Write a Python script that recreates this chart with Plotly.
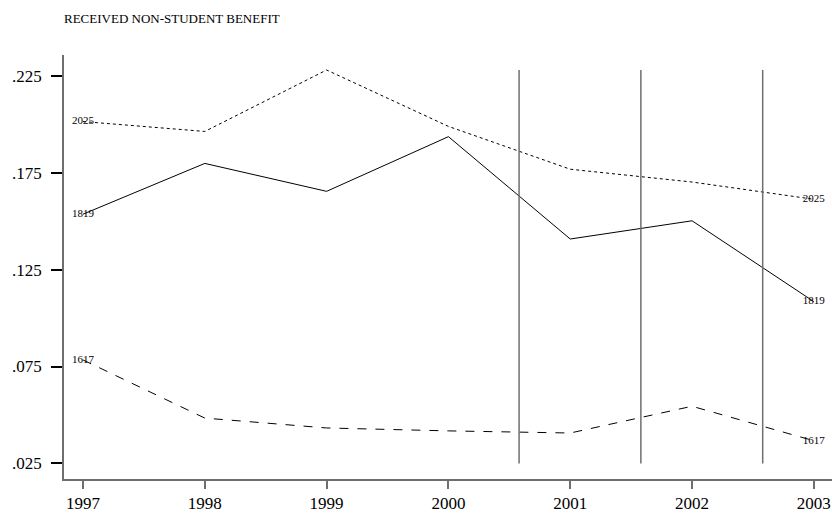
import plotly.graph_objects as go

# Survey years and share receiving a non-student benefit, by age group
years = [1997, 1998, 1999, 2000, 2001, 2002, 2003]
age_2025 = [0.2014, 0.1963, 0.2280, 0.1989, 0.1768, 0.1702, 0.1613]
age_1819 = [0.1536, 0.1798, 0.1654, 0.1936, 0.1408, 0.1502, 0.1085]
age_1617 = [0.0784, 0.0484, 0.0433, 0.0418, 0.0407, 0.0545, 0.0367]

series_names = ["2025", "1819", "1617"]
series_values = [age_2025, age_1819, age_1617]
series_dash = ["dot", "solid", "dash"]

# Policy-change reference lines
ref_x = [2000.58, 2001.58, 2002.58]
ref_ymin = 0.025
ref_ymax = max(age_2025)

y_ticks = [0.025, 0.075, 0.125, 0.175, 0.225]
y_ticklabels = [".025", ".075", ".125", ".175", ".225"]

serif = "Liberation Serif"

fig = go.Figure()

for name, vals, dash in zip(series_names, series_values, series_dash):
    labels = [name] + [""] * (len(vals) - 2) + [name]
    fig.add_trace(go.Scatter(
        x=years, y=vals, mode="lines+text", name=name,
        line=dict(color="black", width=1, dash=dash),
        text=labels, textposition="middle center",
        textfont=dict(family=serif, size=11, color="black"),
        showlegend=False, cliponaxis=False,
    ))

for xv in ref_x:
    fig.add_shape(type="line", xref="x", yref="y",
                  x0=xv, x1=xv, y0=ref_ymin, y1=ref_ymax,
                  line=dict(color="#6e6e6e", width=1.5))

fig.update_layout(
    width=832, height=513,
    margin=dict(l=64, r=0, t=55, b=30),
    paper_bgcolor="white", plot_bgcolor="white",
    title=dict(text="RECEIVED NON-STUDENT BENEFIT", x=64 / 832, xanchor="left",
               y=1 - 18 / 513, yanchor="middle",
               font=dict(family=serif, size=13, color="black")),
    font=dict(family=serif, color="black"),
)

fig.update_xaxes(
    range=[1996.844, 2003.149], tickvals=years, ticktext=[str(y) for y in years],
    showline=True, linecolor="#6e6e6e", linewidth=1.5, mirror=False,
    ticks="outside", ticklen=8, tickcolor="#6e6e6e", tickwidth=1.5,
    showgrid=False, zeroline=False, tickfont=dict(family=serif, size=17),
)
fig.update_yaxes(
    range=[0.01697, 0.23574], tickvals=y_ticks, ticktext=y_ticklabels,
    showline=True, linecolor="#6e6e6e", linewidth=1.5, mirror=False,
    ticks="outside", ticklen=11, tickcolor="black", tickwidth=1.5,
    ticklabelstandoff=6,
    showgrid=False, zeroline=False, tickfont=dict(family=serif, size=17),
)

fig.write_html("out.html")
